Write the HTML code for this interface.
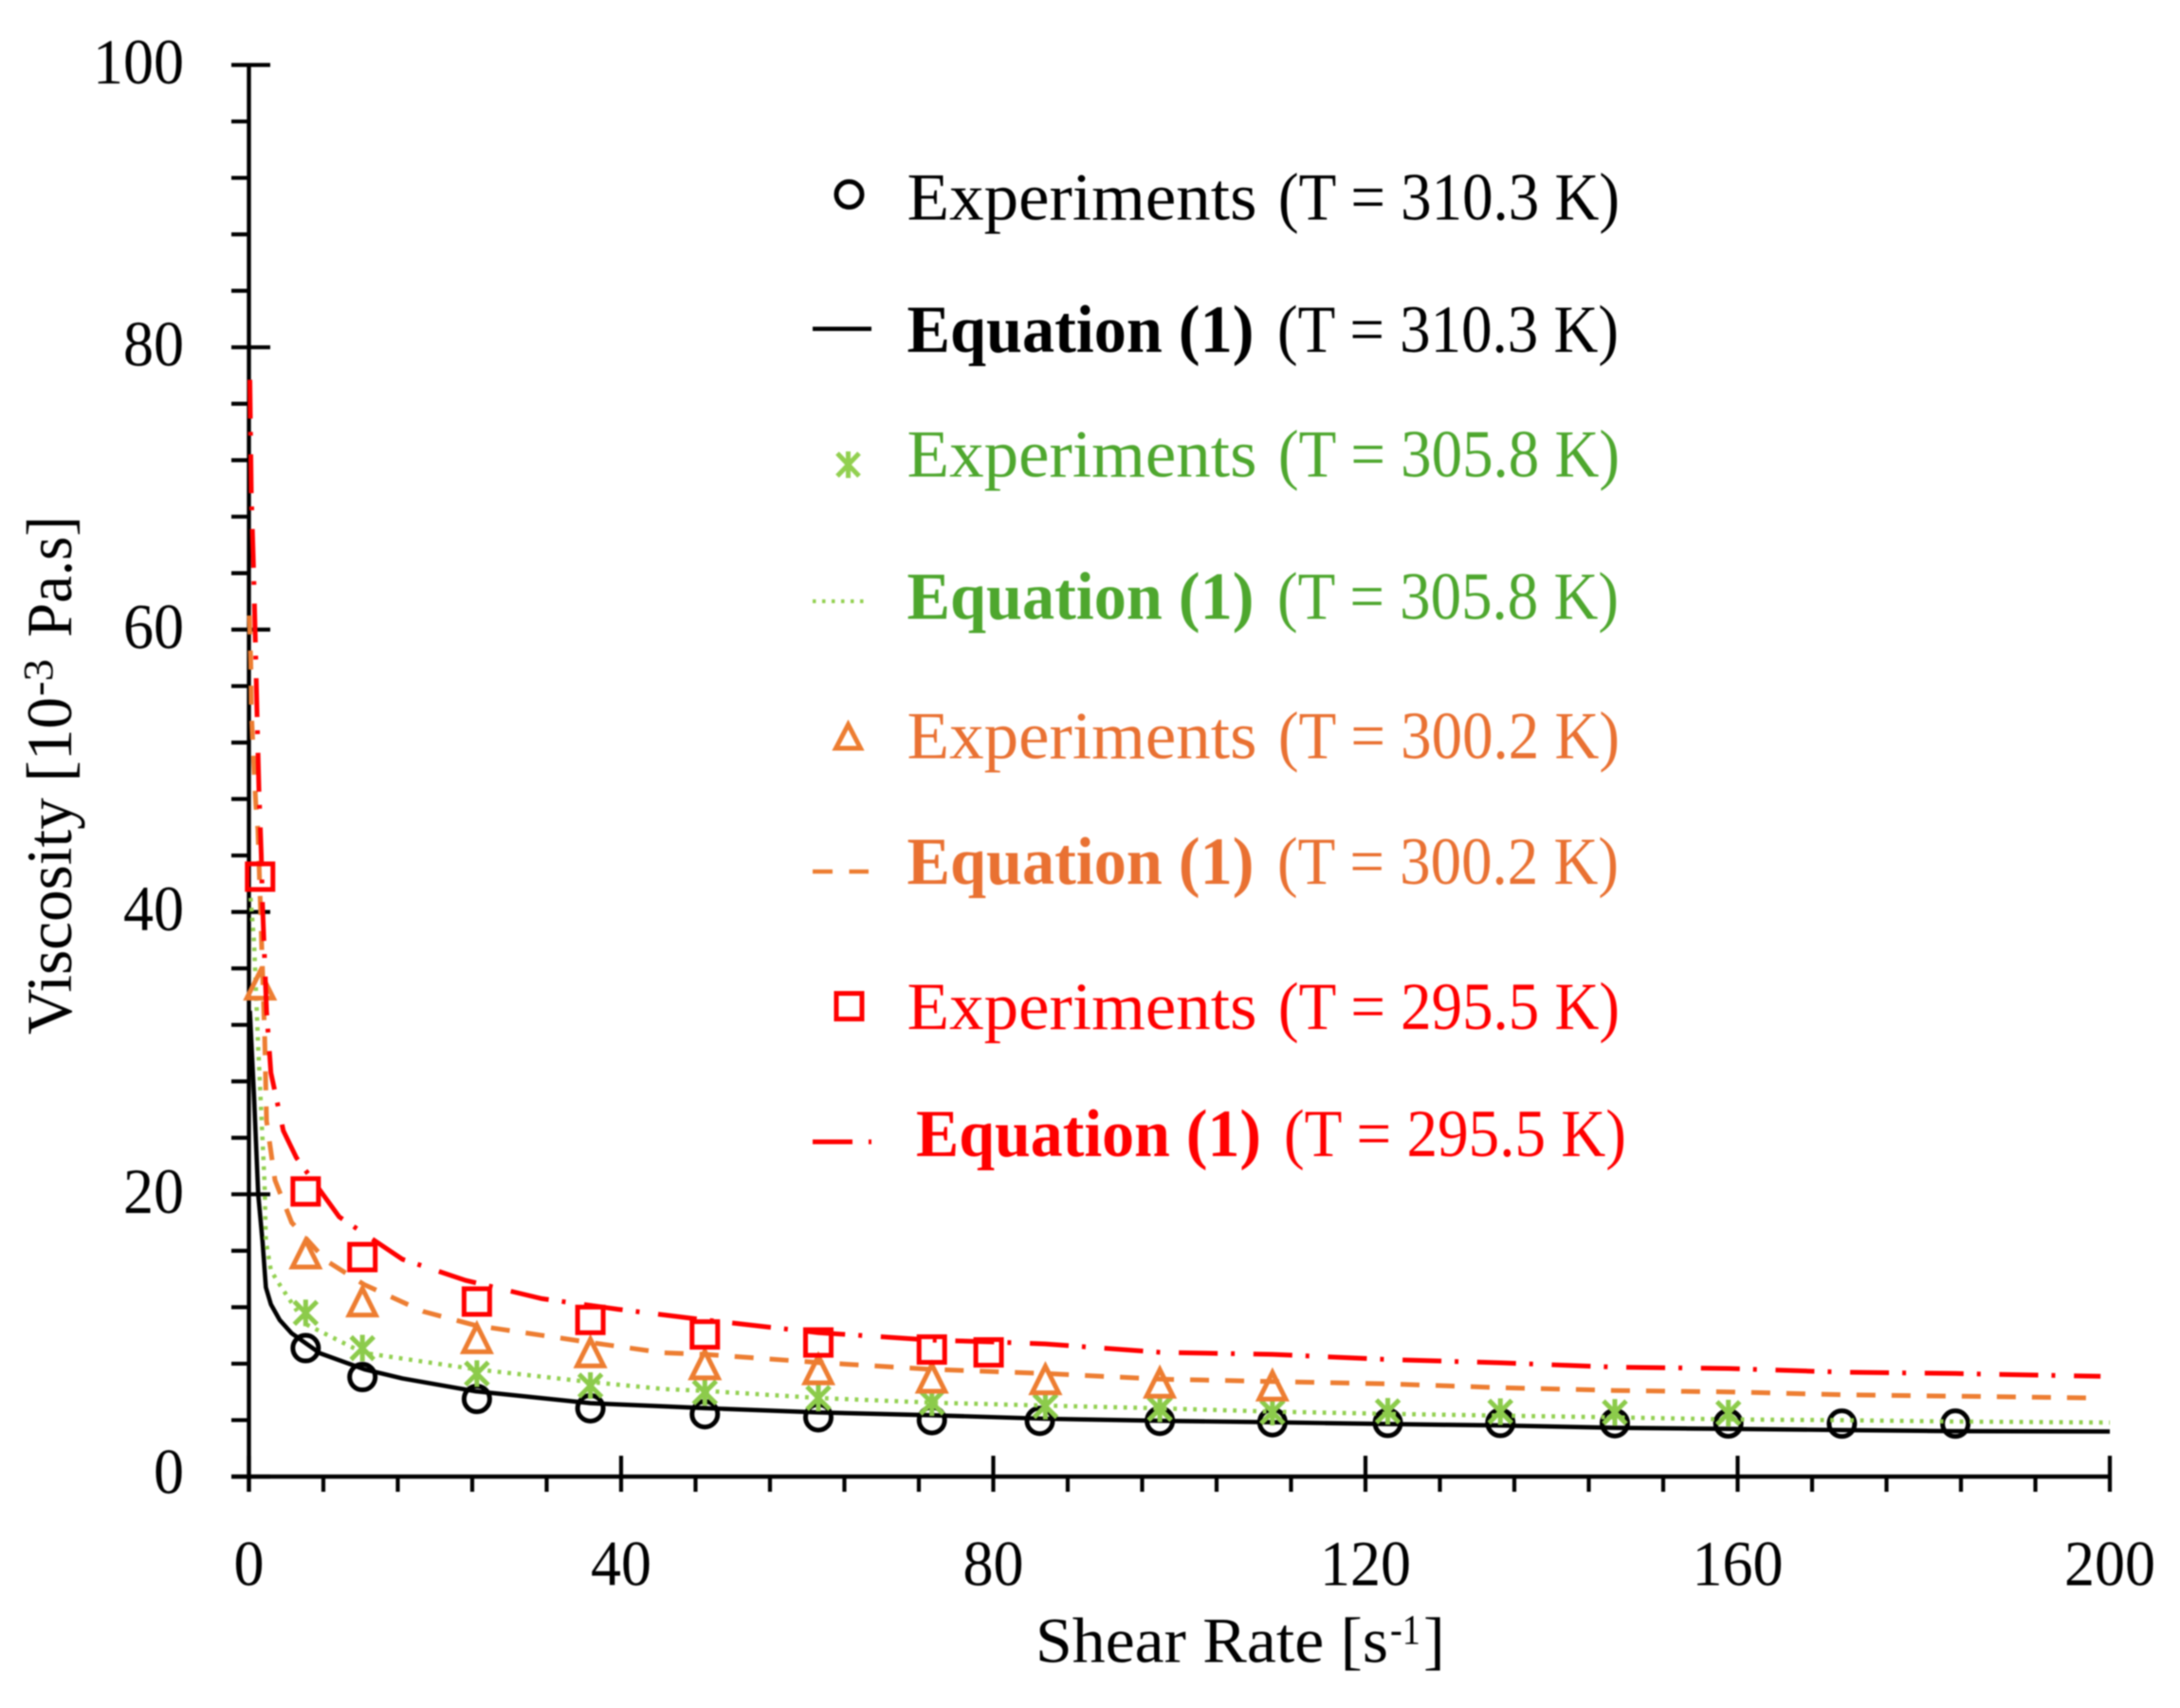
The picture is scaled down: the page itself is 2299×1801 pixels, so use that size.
<!DOCTYPE html>
<html lang="en">
<head>
<meta charset="utf-8">
<title>Viscosity vs Shear Rate</title>
<style>
html,body{margin:0;padding:0;background:#fff;width:2299px;height:1801px;overflow:hidden}
svg{display:block;filter:blur(0.8px)}
text{font-family:"Liberation Serif",serif;font-size:68px;fill:#000}
.lg{font-size:71px}
.sup{font-size:44px}
.b{font-weight:bold}
.g{fill:#4EA72E}.o{fill:#E97132}.r{fill:#FF0000}
</style>
</head>
<body>
<svg id="chart" xmlns="http://www.w3.org/2000/svg" width="2299" height="1801" viewBox="0 0 2299 1801">
  <rect x="0" y="0" width="2299" height="1801" fill="#fff"/>
  <g id="axes"></g>
  <g id="series"></g>

  <g>
    <text transform="translate(75 1091) rotate(-90)" textLength="356" lengthAdjust="spacingAndGlyphs">Viscosity [10</text>
    <text class="sup" transform="translate(55 734) rotate(-90)" textLength="39" lengthAdjust="spacingAndGlyphs">-3</text>
    <text transform="translate(75 672) rotate(-90)" textLength="128" lengthAdjust="spacingAndGlyphs">Pa.s]</text>
  </g>
  <g>
    <text x="1092" y="1752.7" textLength="372" lengthAdjust="spacingAndGlyphs">Shear Rate [s</text>
    <text class="sup" x="1466" y="1733" textLength="32" lengthAdjust="spacingAndGlyphs">-1</text>
    <text x="1501" y="1752.7">]</text>
  </g>

  <g>
    <g>
      <circle cx="895.5" cy="205" r="13.5" fill="none" stroke="#000" stroke-width="5"/>
      <text class="lg" x="956.5" y="231.7" textLength="369" lengthAdjust="spacingAndGlyphs">Experiments</text>
      <text class="lg" x="1348" y="231.7" textLength="360" lengthAdjust="spacingAndGlyphs">(T = 310.3 K)</text>
    </g>
    <g>
      <line x1="857" y1="346.7" x2="919" y2="346.7" stroke="#000" stroke-width="4.5"/>
      <text class="lg b" x="956.5" y="371" textLength="366" lengthAdjust="spacingAndGlyphs">Equation (1)</text>
      <text class="lg" x="1347" y="371" textLength="360" lengthAdjust="spacingAndGlyphs">(T = 310.3 K)</text>
    </g>
    <g>
      <path d="M883 478L906 502M906 478L883 502M894.5 476V504" fill="none" stroke="#92D050" stroke-width="5"/>
      <text class="lg g" x="956.5" y="502.7" textLength="369" lengthAdjust="spacingAndGlyphs">Experiments</text>
      <text class="lg g" x="1348" y="502.7" textLength="360" lengthAdjust="spacingAndGlyphs">(T = 305.8 K)</text>
    </g>
    <g>
      <line x1="857" y1="634" x2="917" y2="634" stroke="#92D050" stroke-width="4" stroke-dasharray="3.5 6.5"/>
      <text class="lg b g" x="956.5" y="652.7" textLength="366" lengthAdjust="spacingAndGlyphs">Equation (1)</text>
      <text class="lg g" x="1347" y="652.7" textLength="360" lengthAdjust="spacingAndGlyphs">(T = 305.8 K)</text>
    </g>
    <g>
      <path d="M894.5 764L881.5 789H907.5Z" fill="none" stroke="#ED7D31" stroke-width="5"/>
      <text class="lg o" x="956.5" y="799.3" textLength="369" lengthAdjust="spacingAndGlyphs">Experiments</text>
      <text class="lg o" x="1348" y="799.3" textLength="360" lengthAdjust="spacingAndGlyphs">(T = 300.2 K)</text>
    </g>
    <g>
      <line x1="857" y1="919" x2="916" y2="919" stroke="#ED7D31" stroke-width="4.5" stroke-dasharray="21 17.5"/>
      <text class="lg b o" x="956.5" y="932" textLength="366" lengthAdjust="spacingAndGlyphs">Equation (1)</text>
      <text class="lg o" x="1347" y="932" textLength="360" lengthAdjust="spacingAndGlyphs">(T = 300.2 K)</text>
    </g>
    <g>
      <rect x="882" y="1047.5" width="27" height="27" fill="none" stroke="#FF0000" stroke-width="5"/>
      <text class="lg r" x="956.5" y="1085" textLength="369" lengthAdjust="spacingAndGlyphs">Experiments</text>
      <text class="lg r" x="1348" y="1085" textLength="360" lengthAdjust="spacingAndGlyphs">(T = 295.5 K)</text>
    </g>
    <g>
      <line x1="857" y1="1204" x2="899" y2="1204" stroke="#FF0000" stroke-width="5"/>
      <line x1="916" y1="1204" x2="919" y2="1204" stroke="#FF0000" stroke-width="5"/>
      <text class="lg b r" x="966" y="1219" textLength="364" lengthAdjust="spacingAndGlyphs">Equation (1)</text>
      <text class="lg r" x="1354" y="1219" textLength="361" lengthAdjust="spacingAndGlyphs">(T = 295.5 K)</text>
    </g>
  </g>
</svg>
<script>
// Tick values
const xMajorTicks = [0, 40, 80, 120, 160, 200];
const xMinorTicks = [8, 16, 24, 32, 48, 56, 64, 72, 88, 96, 104, 112, 128, 136, 144, 152, 168, 176, 184, 192];
const yMajorTicks = [0, 20, 40, 60, 80, 100];
const yMinorTicks = [4, 8, 12, 16, 24, 28, 32, 36, 44, 48, 52, 56, 64, 68, 72, 76, 84, 88, 92, 96];

// Experimental data, 310.3 K
const exp310Rates = [6.1, 12.2, 24.5, 36.7, 49, 61.2, 73.4, 85, 97.9, 110, 122.4, 134.5, 146.8, 159, 171.2, 183.4];
const exp310Values = [9.1, 7.05, 5.5, 4.84, 4.42, 4.2, 4.0, 3.95, 3.95, 3.85, 3.8, 3.8, 3.78, 3.76, 3.75, 3.75];
// Experimental data, 305.8 K
const exp305Rates = [6.1, 12.2, 24.5, 36.7, 49, 61.2, 73.4, 85.6, 97.9, 110, 122.4, 134.5, 146.8, 159];
const exp305Values = [11.6, 9.1, 7.3, 6.45, 5.96, 5.57, 5.24, 5.0, 4.8, 4.57, 4.63, 4.6, 4.55, 4.5];
// Experimental data, 300.2 K
const exp300Rates = [1.2, 6.1, 12.2, 24.5, 36.7, 49, 61.2, 73.4, 85.6, 97.9, 110];
const exp300Values = [34.7, 15.65, 12.25, 9.65, 8.65, 7.8, 7.45, 6.85, 6.74, 6.5, 6.3];
// Experimental data, 295.5 K
const exp295Rates = [1.2, 6.1, 12.2, 24.5, 36.7, 49, 61.2, 73.4, 79.5];
const exp295Values = [42.5, 20.2, 15.55, 12.4, 11.1, 10.07, 9.5, 9.0, 8.8];

// Equation (1) curves
const eq310Rates = [0.1, 0.55, 1, 1.46, 1.82, 2.36, 3.3, 4.6, 7.6, 12.4, 16.5, 24.4, 36.7, 44.6, 49, 61.2, 73.4, 85.6, 98, 110, 122.4, 134.5, 146.8, 159, 171.2, 183.4, 200];
const eq310Values = [33, 26.9, 20, 16.7, 13.4, 12.2, 11.1, 10.15, 8.75, 7.6, 6.95, 6.04, 5.2, 4.98, 4.85, 4.55, 4.35, 4.1, 3.95, 3.85, 3.72, 3.62, 3.45, 3.38, 3.3, 3.22, 3.2];
const eq305Rates = [0.1, 0.55, 1, 1.68, 1.82, 2.36, 3.3, 6.1, 12.3, 24.4, 36.7, 44.6, 49, 61.2, 73.4, 85.6, 98, 110, 122.4, 134.5, 146.8, 159, 171.2, 183.4, 200];
const eq305Values = [41.7, 37.9, 30.4, 20.8, 16.7, 14.6, 13.6, 10.8, 8.77, 7.6, 6.7, 6.2, 6.07, 5.57, 5.24, 5.03, 4.84, 4.6, 4.45, 4.32, 4.2, 4.05, 4.0, 3.9, 3.83];
const eq300Rates = [0.05, 0.2, 0.27, 0.5, 0.75, 0.97, 1.7, 1.9, 2.8, 4.6, 8.3, 12.4, 18.7, 24.4, 36.7, 44.6, 49, 61.2, 73.4, 85.6, 98, 110, 122.4, 134.5, 146.8, 159, 171.2, 183.4, 198.3];
const eq300Values = [61, 57.6, 54.2, 50.8, 47.5, 45.8, 31, 25.2, 21, 18, 15.3, 13.6, 11.7, 10.7, 9.5, 8.77, 8.66, 8.08, 7.6, 7.3, 6.9, 6.74, 6.57, 6.3, 6.1, 6.0, 5.8, 5.7, 5.57];
const eq295Rates = [0.1, 0.25, 0.5, 0.7, 0.87, 1.07, 1.32, 1.46, 1.9, 2.36, 3.7, 5.1, 9.7, 16.5, 23.3, 31.5, 39.7, 49, 61.2, 73.4, 80, 85.6, 98, 110, 122.4, 134.5, 146.8, 159, 171.2, 183.4, 199];
const eq295Values = [77.7, 69.7, 64.3, 58.9, 54.2, 48.8, 44.1, 40.6, 33, 28.6, 24.5, 22.6, 18.4, 15.4, 13.9, 12.6, 11.85, 11.1, 10.2, 9.67, 9.54, 9.4, 8.8, 8.66, 8.3, 8.06, 7.75, 7.66, 7.4, 7.3, 7.1];

const SVGNS = 'http://www.w3.org/2000/svg';
const xScale = v => 262.5 + v * 9.8125;
const yScale = v => 1557 - v * 14.885;
const axes = document.getElementById('axes');
const seriesRoot = document.getElementById('series');

function make(tag, parent, attrs) {
  const node = document.createElementNS(SVGNS, tag);
  for (const k in attrs) node.setAttribute(k, attrs[k]);
  parent.appendChild(node);
  return node;
}

// Axes lines
{
  const el = make('line', axes, {x1: xScale(0), y1: yScale(100) - 2, x2: xScale(0), y2: 1573, stroke: '#000', 'stroke-width': 4.4});
  
  
}
{
  const el = make('line', axes, {x1: 244, y1: yScale(0), x2: xScale(200) + 2, y2: yScale(0), stroke: '#000', 'stroke-width': 4.4});
  
  
}

// Y ticks
yMajorTicks.forEach(v => {
  const y = yScale(v);
  const el = make('line', axes, {x1: 244, y1: y, x2: 285, y2: y, stroke: '#000', 'stroke-width': 4.2});
  
  
  const label = make('text', axes, {x: 194, y: v === 0 ? y + 17.5 : y + 19.5, 'text-anchor': 'end', textLength: String(v).length * 32, lengthAdjust: 'spacingAndGlyphs'});
  label.textContent = String(v);
  
  
});
yMinorTicks.forEach(v => {
  const y = yScale(v);
  const el = make('line', axes, {x1: 244, y1: y, x2: xScale(0), y2: y, stroke: '#000', 'stroke-width': 4.2});
  
  
});

// X ticks
xMajorTicks.forEach(v => {
  const x = xScale(v);
  const el = make('line', axes, {x1: x, y1: 1535, x2: x, y2: 1573, stroke: '#000', 'stroke-width': 4.2});
  
  
  const label = make('text', axes, {x: x, y: 1671.7, 'text-anchor': 'middle', textLength: String(v).length * 32, lengthAdjust: 'spacingAndGlyphs'});
  label.textContent = String(v);
  
  
});
xMinorTicks.forEach(v => {
  const x = xScale(v);
  const el = make('line', axes, {x1: x, y1: yScale(0), x2: x, y2: 1573, stroke: '#000', 'stroke-width': 4.2});
  
  
});

function pointsOf(rates, values) {
  return rates.map((r, i) => xScale(r).toFixed(1) + ',' + yScale(values[i]).toFixed(1)).join(' ');
}

// 310.3 K: solid curve and circles
{
  const el = make('polyline', seriesRoot, {points: pointsOf(eq310Rates, eq310Values), fill: 'none', stroke: '#000', 'stroke-width': 4.6, 'stroke-linejoin': 'round'});
  
  
}
exp310Rates.forEach((r, i) => {
  const el = make('circle', seriesRoot, {cx: xScale(r), cy: yScale(exp310Values[i]), r: 13.5, fill: 'none', stroke: '#000', 'stroke-width': 5});
  
  
});

// 305.8 K: dotted curve and stars
{
  const el = make('polyline', seriesRoot, {points: pointsOf(eq305Rates, eq305Values), fill: 'none', stroke: '#92D050', 'stroke-width': 4.5, 'stroke-dasharray': '3.8 6.7'});
  
  
}
exp305Rates.forEach((r, i) => {
  const x = xScale(r), y = yScale(exp305Values[i]);
  const d = `M${x - 12} ${y - 12}L${x + 12} ${y + 12}M${x + 12} ${y - 12}L${x - 12} ${y + 12}M${x} ${y - 14}V${y + 14}`;
  const el = make('path', seriesRoot, {d: d, fill: 'none', stroke: '#8CCB4B', 'stroke-width': 5});
  
  
});

// 300.2 K: dashed curve and triangles
{
  const el = make('polyline', seriesRoot, {points: pointsOf(eq300Rates, eq300Values), fill: 'none', stroke: '#ED7D31', 'stroke-width': 5, 'stroke-dasharray': '20 17'});
  
  
}
exp300Rates.forEach((r, i) => {
  const x = xScale(r), y = yScale(exp300Values[i]);
  const d = `M${x} ${y - 16}L${x - 14} ${y + 12}H${x + 14}Z`;
  const el = make('path', seriesRoot, {d: d, fill: 'none', stroke: '#ED7D31', 'stroke-width': 5});
  
  
});

// 295.5 K: dash-dot curve and squares
{
  const el = make('polyline', seriesRoot, {points: pointsOf(eq295Rates, eq295Values), fill: 'none', stroke: '#FF0000', 'stroke-width': 5, 'stroke-dasharray': '41 14 4 19.7'});
  
  
}
exp295Rates.forEach((r, i) => {
  const x = xScale(r), y = yScale(exp295Values[i]);
  const el = make('rect', seriesRoot, {x: x - 13.5, y: y - 13.5, width: 27, height: 27, fill: 'none', stroke: '#FF0000', 'stroke-width': 5});
  
  
});
</script>
</body>
</html>
